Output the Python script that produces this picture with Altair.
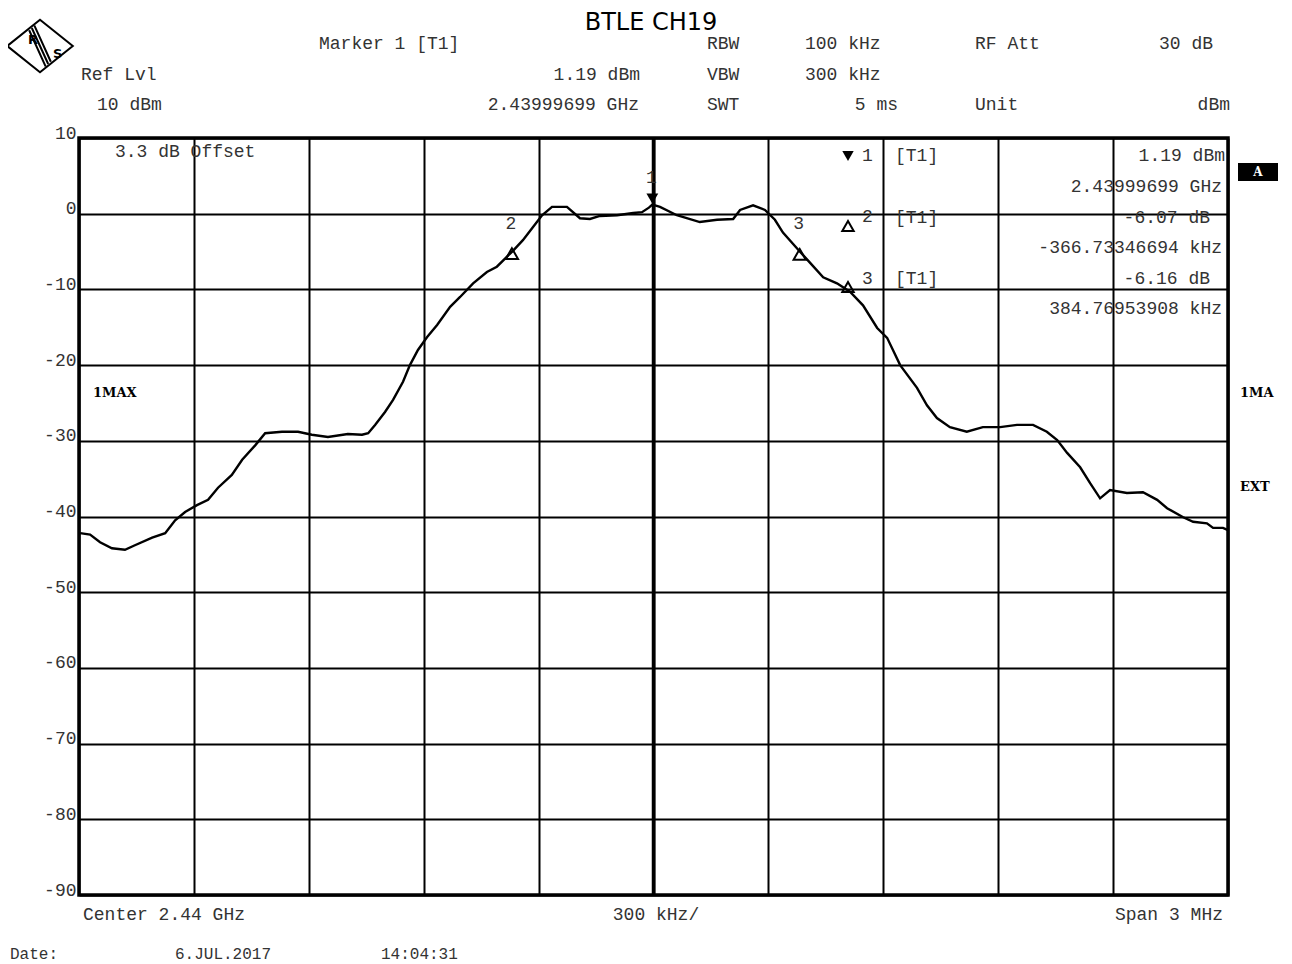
import altair as alt
import pandas as pd

freq_mhz = [-1.497, -1.471, -1.445, -1.414, -1.380, -1.354, -1.309, -1.275, -1.249, -1.223,
            -1.192, -1.163, -1.137, -1.101, -1.074, -1.040, -1.014, -0.970, -0.928, -0.892,
            -0.850, -0.798, -0.761, -0.745, -0.727, -0.701, -0.680, -0.654, -0.636, -0.615,
            -0.591, -0.565, -0.531, -0.505, -0.471, -0.435, -0.409, -0.383, -0.367, -0.341,
            -0.315, -0.291, -0.265, -0.226, -0.192, -0.166, -0.140, -0.095, -0.053, -0.030,
            -0.012, -0.003, 0.017, 0.061, 0.121, 0.166, 0.208, 0.226, 0.260, 0.291,
            0.317, 0.338, 0.375, 0.409, 0.443, 0.479, 0.513, 0.547, 0.584, 0.610,
            0.644, 0.688, 0.714, 0.740, 0.774, 0.818, 0.860, 0.905, 0.949, 0.991,
            1.027, 1.054, 1.080, 1.114, 1.140, 1.166, 1.192, 1.236, 1.278, 1.315,
            1.341, 1.383, 1.409, 1.445, 1.461, 1.487, 1.500]
level_dbm = [-42.2, -42.4, -43.4, -44.2, -44.4, -43.8, -42.8, -42.2, -40.5, -39.4,
             -38.5, -37.8, -36.2, -34.5, -32.5, -30.6, -29.0, -28.8, -28.8, -29.2,
             -29.5, -29.1, -29.2, -29.0, -27.9, -26.2, -24.6, -22.2, -20.0, -18.0,
             -16.3, -14.7, -12.3, -11.0, -9.2, -7.7, -7.0, -5.7, -4.9, -3.5,
             -1.8, -0.2, 0.9, 0.9, -0.6, -0.7, -0.3, -0.2, 0.1, 0.2,
             0.8, 1.19, 0.9, -0.2, -1.1, -0.8, -0.7, 0.5, 1.1, 0.5,
             -0.8, -2.5, -4.6, -6.5, -8.4, -9.2, -10.3, -12.1, -15.1, -16.4,
             -20.0, -23.0, -25.3, -27.0, -28.2, -28.8, -28.2, -28.2, -27.9, -27.9,
             -28.8, -29.9, -31.6, -33.5, -35.6, -37.6, -36.5, -36.9, -36.8, -37.8,
             -38.9, -40.1, -40.7, -40.9, -41.5, -41.5, -41.8]

marker_ids = ["1", "2", "3"]
marker_freq_mhz = [-0.00301, -0.36974, 0.38176]
marker_level_dbm = [1.19, -4.88, -4.97]

x_ticks = [-1.5, -1.2, -0.9, -0.6, -0.3, 0.0, 0.3, 0.6, 0.9, 1.2, 1.5]
y_ticks = [10, 0, -10, -20, -30, -40, -50, -60, -70, -80, -90]

# ---------------- styling ----------------
W, H = 1149, 757
MONO = "Liberation Mono"
INK = "#333333"
FS = 18

trace = pd.DataFrame({"f": freq_mhz, "p": level_dbm})
markers = pd.DataFrame({"id": marker_ids, "f": marker_freq_mhz, "p": marker_level_dbm})
one = alt.Data(values=[{"k": 0}])

xs = alt.Scale(domain=[-1.5, 1.5], nice=False, zero=False)
ys = alt.Scale(domain=[-90, 10], nice=False, zero=False)

line = alt.Chart(trace).mark_line(color="black", strokeWidth=2.4, clip=True).encode(
    x=alt.X("f:Q", scale=xs,
            axis=alt.Axis(values=x_ticks, grid=True, gridColor="black", gridWidth=2,
                          gridOpacity=1, labels=False, ticks=False, domain=False, title=None)),
    y=alt.Y("p:Q", scale=ys,
            axis=alt.Axis(values=y_ticks, grid=True, gridColor="black", gridWidth=2,
                          gridOpacity=1, ticks=False, tickSize=0, domain=False, title=None,
                          labelFont=MONO, labelFontSize=18, labelColor=INK,
                          labelAlign="right", labelBaseline="alphabetic", labelPadding=3,
                          labelFlush=False, labelExpr="toString(datum.value)")),
)

center = alt.Chart(pd.DataFrame({"f": [0.0]})).mark_rule(color="black", strokeWidth=3.5).encode(
    x=alt.X("f:Q", scale=xs)
)

m1 = alt.Chart(markers).transform_filter("datum.id == '1'").mark_point(
    shape="triangle-down", filled=True, color="black", size=140, yOffset=-6, opacity=1
).encode(x=alt.X("f:Q", scale=xs), y=alt.Y("p:Q", scale=ys))

m23 = alt.Chart(markers).transform_filter("datum.id != '1'").mark_point(
    shape="triangle-up", filled=False, color="black", strokeWidth=2, size=150, yOffset=3, opacity=1
).encode(x=alt.X("f:Q", scale=xs), y=alt.Y("p:Q", scale=ys))

mlab = alt.Chart(markers).mark_text(
    font=MONO, fontSize=FS, color=INK, dy=-27, dx=-1
).encode(x=alt.X("f:Q", scale=xs), y=alt.Y("p:Q", scale=ys), text="id:N")


def label(text, x, y, align="left", size=FS, font=MONO, color=INK, weight="normal"):
    return alt.Chart(one).mark_text(
        text=text, align=align, baseline="middle", font=font, fontSize=size,
        color=color, fontWeight=weight
    ).encode(x=alt.value(x), y=alt.value(y))


def sym(shape, x, y, filled, size=130):
    return alt.Chart(one).mark_point(
        shape=shape, filled=filled, color="black", strokeWidth=2, size=size, opacity=1
    ).encode(x=alt.value(x), y=alt.value(y))


texts = [
    label("BTLE CH19", 572, -115, align="center", size=24, font="DejaVu Sans", color="black"),
    # header row 1
    label("Marker 1 [T1]", 240, -94),
    label("RBW", 628, -94),
    label("100 kHz", 726, -94),
    label("RF Att", 896, -94),
    label("30 dB", 1134, -94, align="right"),
    # header row 2
    label("Ref Lvl", 2, -63),
    label("1.19 dBm", 561, -63, align="right"),
    label("VBW", 628, -63),
    label("300 kHz", 726, -63),
    # header row 3
    label("10 dBm", 18, -33),
    label("2.43999699 GHz", 560, -33, align="right"),
    label("SWT", 628, -33),
    label("5 ms", 819, -33, align="right"),
    label("Unit", 896, -33),
    label("dBm", 1151, -33, align="right"),
    # inside plot
    label("3.3 dB Offset", 36, 14),
    label("1", 783, 18),
    label("[T1]", 816, 18),
    label("1.19 dBm", 1146, 18, align="right"),
    label("2.43999699 GHz", 1143, 49, align="right"),
    label("2", 783, 79),
    label("[T1]", 816, 80),
    label("-6.07 dB", 1131, 80, align="right"),
    label("-366.73346694 kHz", 1143, 110, align="right"),
    label("3", 783, 141),
    label("[T1]", 816, 141),
    label("-6.16 dB", 1131, 141, align="right"),
    label("384.76953908 kHz", 1143, 171, align="right"),
    # side labels
    label("1MAX", 14, 255, size=13, font="DejaVu Serif", color="black", weight="bold"),
    label("1MA", 1161, 255, size=13, font="DejaVu Serif", color="black", weight="bold"),
    label("EXT", 1161, 349, size=13, font="DejaVu Serif", color="black", weight="bold"),
    # bottom
    label("Center 2.44 GHz", 4, 777),
    label("300 kHz/", 577, 777, align="center"),
    label("Span 3 MHz", 1144, 777, align="right"),
    label("Date:", -69, 816, size=16),
    label("6.JUL.2017", 96, 816, size=16),
    label("14:04:31", 302, 816, size=16),
]

abox = alt.Chart(one).mark_rect(color="black").encode(
    x=alt.value(1159), x2=alt.value(1199), y=alt.value(25), y2=alt.value(43)
)
atext = label("A", 1179, 34, align="center", size=12, font="DejaVu Serif", color="white", weight="bold")

legend_syms = [
    sym("triangle-down", 769, 18, True),
    sym("triangle-up", 769, 88, False),
    sym("triangle-up", 769, 149, False),
]

logo = alt.Chart(one).mark_point(
    shape="M-1,0L0,-0.8L1,0L0,0.8Z M-0.25,-0.55L0.25,0.55 M-0.17,-0.62L0.33,0.48 M-0.33,-0.48L0.17,0.62",
    filled=False, color="black", strokeWidth=2, size=4300, opacity=1
).encode(x=alt.value(-39), y=alt.value(-92))
logo_r = label("R", -51, -98, size=13, font="DejaVu Sans", color="black", weight="bold")
logo_s = label("S", -26, -84, size=13, font="DejaVu Sans", color="black", weight="bold")

chart = alt.layer(
    line, center, m1, m23, mlab, abox, atext, logo, logo_r, logo_s, *legend_syms, *texts
).properties(
    width=W, height=H,
    padding={"left": 71, "top": 130, "right": 56, "bottom": 70},
    autosize=alt.AutoSizeParams(type="none"),
    background="white",
).configure_view(stroke="black", strokeWidth=3.5)

chart.save("out.html", embed_options={"renderer": "svg", "actions": False})
